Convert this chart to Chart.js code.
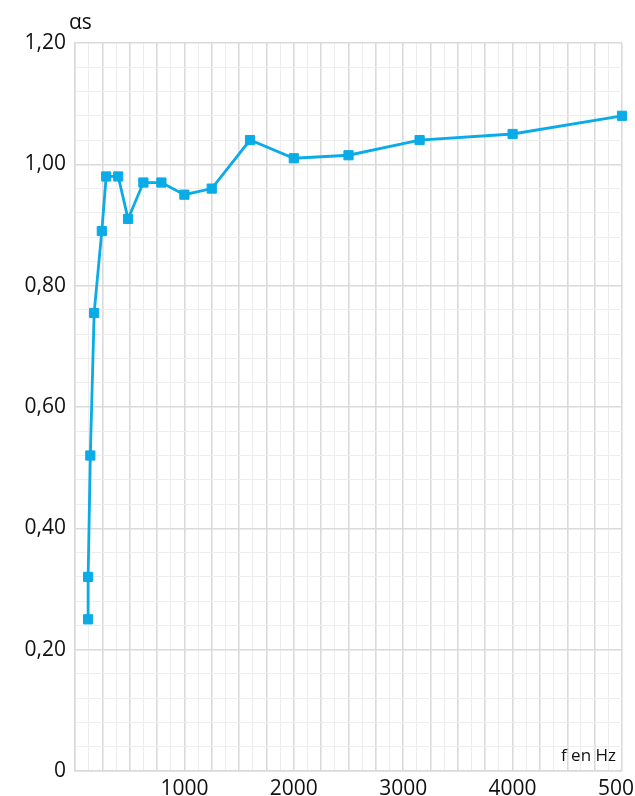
<!DOCTYPE html>
<html lang="fr">
<head>
  <meta charset="UTF-8">
  <title>Coefficient d'absorption αs</title>
  <script src="https://cdn.jsdelivr.net/npm/chart.js"></script>
  <style>
    html, body {
      margin: 0;
      padding: 0;
      overflow: hidden;
      background: #fff;
    }
    #wrap {
      position: absolute;
      left: 0;
      top: 0;
      width: 670px;
      height: 830px;
    }
  </style>
</head>
<body>
  <div id="wrap"><canvas id="alphaChart"></canvas></div>

  <script>
    // frequency (Hz) and measured absorption coefficient
    const freqHz = [120, 120, 140, 175, 245, 285, 395, 485, 625, 790, 1000, 1250, 1600, 2000, 2500, 3150, 4000, 5000];
    const alphaS = [0.25, 0.32, 0.52, 0.755, 0.89, 0.98, 0.98, 0.91, 0.97, 0.97, 0.95, 0.96, 1.04, 1.01, 1.015, 1.04, 1.05, 1.08];

    const xLabelStep = 1000;   // only these get a text label
    const yLabelStep = 0.2;

    const lineColor = '#0aabe6';
    const gridMajor = '#dadada';
    const gridMinor = '#ededed';
    const textColor = '#111111';
    const fontFamily = "'Open Sans', 'Noto Sans', sans-serif";

    const points = freqHz.map((f, i) => ({ x: f, y: alphaS[i] }));

    function isMultiple(v, step) {
      const r = v / step;
      return Math.abs(r - Math.round(r)) < 1e-6;
    }

    // axis captions drawn straight on the canvas
    const captions = {
      id: 'captions',
      afterDraw(chart) {
        const ctx = chart.ctx;
        ctx.save();
        ctx.fillStyle = textColor;
        ctx.textBaseline = 'alphabetic';
        ctx.font = '21px ' + fontFamily;
        ctx.textAlign = 'left';
        ctx.fillText('αs', 69, 29);
        ctx.font = '17px ' + fontFamily;
        ctx.textAlign = 'right';
        ctx.fillText('f en Hz', 616, 761);
        ctx.restore();
      }
    };

    const chart = new Chart(document.getElementById('alphaChart').getContext('2d'), {
      type: 'line',
      data: {
        datasets: [{
          data: points,
          borderColor: lineColor,
          backgroundColor: lineColor,
          borderWidth: 2.8,
          pointStyle: 'rect',
          pointRadius: 6.5,
          pointBorderWidth: 1,
          pointBorderColor: lineColor,
          pointBackgroundColor: lineColor,
          tension: 0,
          fill: false,
          clip: false
        }]
      },
      options: {
        responsive: true,
        maintainAspectRatio: false,
        animation: false,
        layout: {
          padding: { left: 0, top: 43, right: 48, bottom: 0 }
        },
        plugins: {
          legend: { display: false },
          tooltip: { enabled: false }
        },
        scales: {
          x: {
            type: 'linear',
            min: 0,
            max: 5000,
            afterFit(scale) { scale.height = 59; },
            border: { color: gridMajor, width: 1.5 },
            grid: {
              drawTicks: false,
              color: c => isMultiple(c.tick.value, 250) ? gridMajor : gridMinor,
              lineWidth: c => isMultiple(c.tick.value, 250) ? 1.6 : 1
            },
            ticks: {
              stepSize: 125,
              maxTicksLimit: 100,
              autoSkip: false,
              maxRotation: 0,
              padding: 5,
              color: textColor,
              font: { family: fontFamily, size: 21 },
              callback: v => (v > 0 && isMultiple(v, xLabelStep)) ? String(v) : ''
            }
          },
          y: {
            min: 0,
            max: 1.2,
            afterFit(scale) { scale.width = 75; },
            border: { color: gridMajor, width: 1.5 },
            grid: {
              drawTicks: false,
              color: c => isMultiple(c.tick.value, yLabelStep) ? gridMajor : gridMinor,
              lineWidth: c => isMultiple(c.tick.value, yLabelStep) ? 1.6 : 1
            },
            ticks: {
              stepSize: 0.04,
              maxTicksLimit: 100,
              autoSkip: false,
              padding: 9,
              color: textColor,
              font: { family: fontFamily, size: 21 },
              callback: v => {
                if (!isMultiple(v, yLabelStep)) return '';
                return v === 0 ? '0' : v.toFixed(2).replace('.', ',');
              }
            }
          }
        }
      },
      plugins: [captions]
    });
  </script>
</body>
</html>
